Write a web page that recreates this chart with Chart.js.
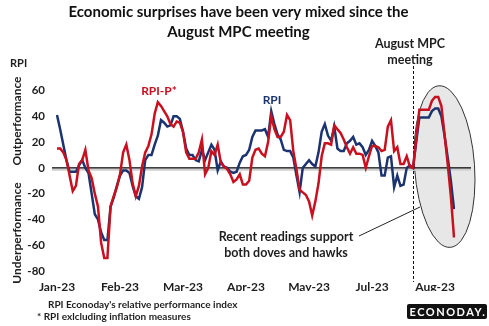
<!DOCTYPE html>
<html>
<head>
<meta charset="utf-8">
<script src="https://cdn.jsdelivr.net/npm/chart.js@4.4.1/dist/chart.umd.min.js"></script>
<style>
  html, body { margin: 0; padding: 0; background: #ffffff; }
  #wrap { width: 489px; height: 326px; position: relative; }
</style>
</head>
<body>
<div id="wrap"><canvas id="rpiChart"></canvas></div>
<script>
// month labels shown every 20 readings along the x axis
const monthTicks = ['Jan-23', 'Feb-23', 'Mar-23', 'Apr-23', 'May-23', 'Jul-23', 'Aug-23'];
const tickStep = 20;

// Econoday relative performance index
const rpi = [
  41, 30, 18, 6, -3, -3, -3, 2, 6, 0,
  -4, -20, -36, -40, -50, -56, -56, -30, -23, -14,
  -6, -2, -2, -4, -14, -22, -24, -15, 6, 10,
  10, 18, 25, 37, 35, 32, 33, 40, 40, 38,
  28, 15, 10, 10, 6, 5, 14, 6, 12, 18,
  14, -2, 5, 1, 0, -3, -4, -3, 4, 9,
  10, 14, 24, 29, 29, 29, 30, 24, 44, 34,
  26, 22, 14, 13, 13, 8, -6, -19, 0, 3,
  6, 3, 1, 12, 28, 34, 25, 21, 32, 15,
  13, 13, 19, 21, 24, 18, 19, 16, 10, 14,
  21, 17, 12, -6, -6, 8, 9, -15, -6, -14,
  -13, 0, 2, 0, 20, 39, 39, 39, 39, 44,
  46, 46, 40, 25, 8, -10, -32
];

// RPI excluding inflation measures
const rpiP = [
  15, 15, 12, 6, -6, -18, -14, 3, 6, 14,
  -2, -8, -20, -30, -58, -70, -70, -30, -22, -15,
  -5, 12, 18, 6, -12, -22, -14, 1, 12, 17,
  26, 42, 51, 48, 44, 40, 34, 32, 36, 35,
  28, 12, 7, 7, 7, 12, 22, -5, 0, 13,
  10, 18, 4, 1, -1, -5, -11, -9, -5, -13,
  -13, -10, 8, 14, 15, 11, 9, 20, 40, 30,
  24, 24, 28, 41, 37, 13, -1, -17, -19, -21,
  -26, -37, -26, -12, 9, 19, 19, 18, 33, 30,
  27, 22, 16, 11, 16, 11, 11, 10, 0, 9,
  17, 17, 16, 13, 14, 32, 37, 13, 16, 3,
  3, 9, 1, 0, 22, 45, 45, 45, 45, 52,
  55, 55, 48, 26, 3, -22, -54
];

const yMin = -80;
const yMax = 60;
const yStep = 20;
const meetingIndex = 113;   // August MPC meeting

const NAVY = '#1b3470';
const RED = '#c8101e';
const INK = '#1e1e1e';
const FONT = 'Lato, "Open Sans", sans-serif';

const categories = rpi.map(function (v, i) {
  return i % tickStep === 0 ? monthTicks[i / tickStep] : '';
});

/* ---------------------------------------------------------
   Extra drawing: ellipse, zero line, meeting marker, notes
   --------------------------------------------------------- */
const annotations = {
  id: 'annotations',
  beforeDatasetsDraw: function (chart) {
    const ctx = chart.ctx;
    const xs = chart.scales.x;
    const ys = chart.scales.y;
    const y0 = ys.getPixelForValue(0);

    // shaded ellipse around the latest readings
    ctx.save();
    ctx.beginPath();
    ctx.ellipse(xs.getPixelForValue(123), ys.getPixelForValue(1), 30, 81, -0.07, 0, Math.PI * 2);
    ctx.fillStyle = '#e7e7e7';
    ctx.fill();
    ctx.lineWidth = 1;
    ctx.strokeStyle = '#333333';
    ctx.stroke();
    ctx.restore();

    // zero line with a soft shadow
    ctx.save();
    ctx.strokeStyle = '#cfcfcf';
    ctx.lineWidth = 2;
    ctx.beginPath();
    ctx.moveTo(52, y0 + 2);
    ctx.lineTo(471, y0 + 2);
    ctx.stroke();
    ctx.strokeStyle = '#000000';
    ctx.lineWidth = 1.3;
    ctx.beginPath();
    ctx.moveTo(52, y0);
    ctx.lineTo(471, y0);
    ctx.stroke();
    ctx.restore();

    // dotted marker at the meeting
    const mx = Math.round(xs.getPixelForValue(meetingIndex)) + 0.5;
    ctx.save();
    ctx.strokeStyle = '#111111';
    ctx.lineWidth = 1;
    ctx.setLineDash([3, 2]);
    ctx.beginPath();
    ctx.moveTo(mx, 66);
    ctx.lineTo(mx, 282);
    ctx.stroke();
    ctx.restore();
  },
  afterDraw: function (chart) {
    const ctx = chart.ctx;
    ctx.save();
    ctx.textBaseline = 'middle';

    // axis captions
    ctx.fillStyle = INK;
    ctx.font = 'bold 11px ' + FONT;
    ctx.textAlign = 'left';
    ctx.fillText('RPI', 10, 63);

    ctx.font = 'bold 12px ' + FONT;
    ctx.textAlign = 'center';
    ctx.save();
    ctx.translate(17, 121);
    ctx.rotate(-Math.PI / 2);
    ctx.fillText('Outperformance', 0, 0);
    ctx.restore();
    ctx.save();
    ctx.translate(17, 233);
    ctx.rotate(-Math.PI / 2);
    ctx.fillText('Underperformance', 0, 0);
    ctx.restore();

    // meeting label
    ctx.font = 'bold 12.5px ' + FONT;
    ctx.fillText('August MPC', 410, 44);
    ctx.fillText('meeting', 410, 60);

    // series labels
    ctx.font = 'bold 12px ' + FONT;
    ctx.fillStyle = RED;
    ctx.fillText('RPI-P*', 159, 91);
    ctx.fillStyle = NAVY;
    ctx.fillText('RPI', 272, 100);

    // callout
    ctx.fillStyle = INK;
    ctx.font = 'bold 12.5px ' + FONT;
    ctx.fillText('Recent readings support', 286, 237);
    ctx.fillText('both doves and hawks', 286, 253);
    ctx.strokeStyle = '#222222';
    ctx.lineWidth = 1;
    ctx.beginPath();
    ctx.moveTo(359, 236);
    ctx.lineTo(420, 207);
    ctx.stroke();

    // footnotes
    ctx.textAlign = 'left';
    ctx.font = 'bold 10px ' + FONT;
    ctx.fillText("RPI Econoday's relative performance index", 48, 305);
    ctx.fillText('* RPI exlcluding inflation measures', 37, 317);

    // logo
    ctx.fillStyle = '#111111';
    ctx.beginPath();
    ctx.roundRect(407, 304, 80, 15, 2);
    ctx.fill();
    ctx.fillStyle = '#ffffff';
    ctx.font = 'bold 11px ' + FONT;
    ctx.letterSpacing = '1.5px';
    ctx.textAlign = 'center';
    ctx.fillText('ECONODAY.', 448, 312);
    ctx.restore();
  }
};

new Chart(document.getElementById('rpiChart'), {
  type: 'line',
  data: {
    labels: categories,
    datasets: [
      {
        label: 'RPI-P*',
        data: rpiP,
        borderColor: RED,
        borderWidth: 2.5,
        pointRadius: 0,
        tension: 0,
        fill: false
      },
      {
        label: 'RPI',
        data: rpi,
        borderColor: NAVY,
        borderWidth: 2.5,
        pointRadius: 0,
        tension: 0,
        fill: false
      }
    ]
  },
  options: {
    responsive: true,
    maintainAspectRatio: false,
    animation: false,
    layout: { padding: { left: 23, right: 35, top: 0, bottom: 35 } },
    plugins: {
      legend: { display: false },
      tooltip: { enabled: false },
      title: {
        display: true,
        text: ['Economic surprises have been very mixed since the', 'August MPC meeting'],
        color: '#111111',
        font: { family: FONT, size: 15, weight: 'bold', lineHeight: 1.35 },
        padding: { top: 2, bottom: 48 }
      }
    },
    scales: {
      x: {
        type: 'category',
        grid: { display: false, drawTicks: false },
        border: { display: false },
        afterFit: function (scale) { scale.height = 20; },
        ticks: {
          autoSkip: false,
          maxRotation: 0,
          padding: 9,
          color: INK,
          font: { family: FONT, size: 12, weight: 'bold' }
        }
      },
      y: {
        min: yMin,
        max: yMax,
        grid: { display: false, drawTicks: false },
        border: { display: false },
        afterFit: function (scale) { scale.width = 34; },
        ticks: {
          stepSize: yStep,
          padding: 12,
          color: INK,
          font: { family: FONT, size: 11.5, weight: 'bold' },
          callback: function (val) { return String(val); }
        }
      }
    }
  },
  plugins: [annotations]
});
</script>
</body>
</html>
